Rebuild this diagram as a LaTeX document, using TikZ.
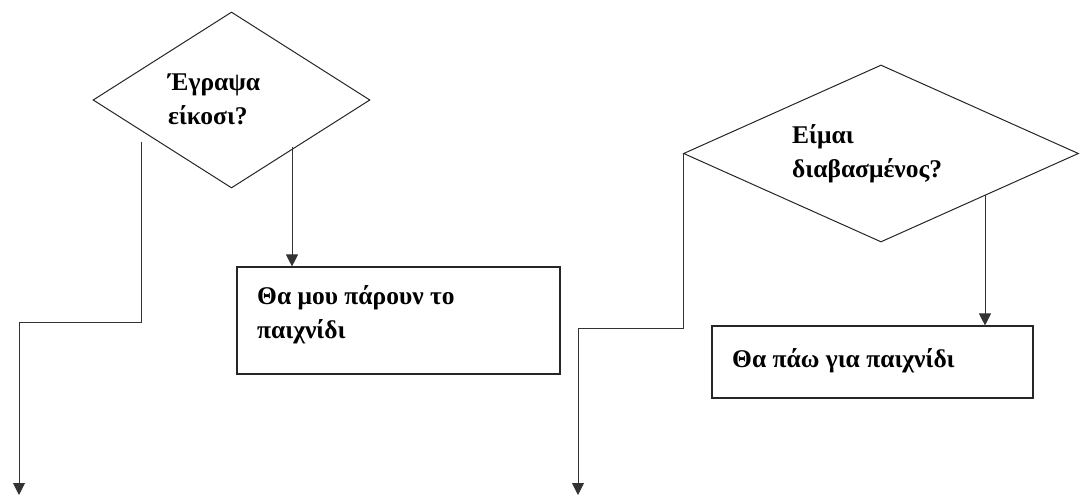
\documentclass[tikz,border=0pt]{standalone}
\usepackage{fontspec}
\setmainfont{Liberation Serif}
\usetikzlibrary{shapes.geometric,arrows.meta}
\tikzset{
  decision/.style={draw=black!85, line width=1pt, diamond, inner sep=0pt, fill=white},
  actbox/.style={draw=black!85, line width=1.1pt, rectangle, inner sep=0pt, fill=white},
  lbl/.style={anchor=west, align=left, inner sep=0pt, font=\bfseries\fontsize{25.5}{34}\selectfont},
  conn/.style={draw=black!80, line width=0.9pt},
  arr/.style={conn, -{Triangle[width=12pt,length=12pt]}}
}
\begin{document}
\begin{tikzpicture}[x=1pt,y=-1pt]
\useasboundingbox (0,0) rectangle (1080,497);
% shapes
\node[decision, minimum width=277pt, minimum height=176pt] (d1) at (231.5,100) {};
\node[decision, minimum width=395pt, minimum height=177pt] (d2) at (881,153.5) {};
\node[actbox, minimum width=323pt, minimum height=107pt] (b1) at (398.5,320.5) {};
\node[actbox, minimum width=321pt, minimum height=72pt] (b2) at (872.5,362) {};
% texts
\node[lbl] (t1) at (168,99) {Έγραψα\\είκοσι?};
\node[lbl] (t2) at (792,153.5) {Είμαι\\διαβασμένος?};
\node[lbl] (t3) at (257,315) {Θα μου πάρουν το\\παιχνίδι};
\node[lbl] (t4) at (732,361) {Θα πάω για παιχνίδι};
% free ends
\coordinate (s1) at (141,142);
\coordinate (e1) at (19,495);
\coordinate (s2) at (292,147);
\coordinate (e2) at (578,495);
\coordinate (s4) at (985,195);
% connectors
\draw[arr] (s1) -- (141,322) -| (e1);
\draw[arr] (s2) -- (s2 |- b1.north);
\draw[arr] (d2.west) -- (d2.west |- 0,328) -| (e2);
\draw[arr] (s4) -- (s4 |- b2.north);
\end{tikzpicture}
\end{document}
